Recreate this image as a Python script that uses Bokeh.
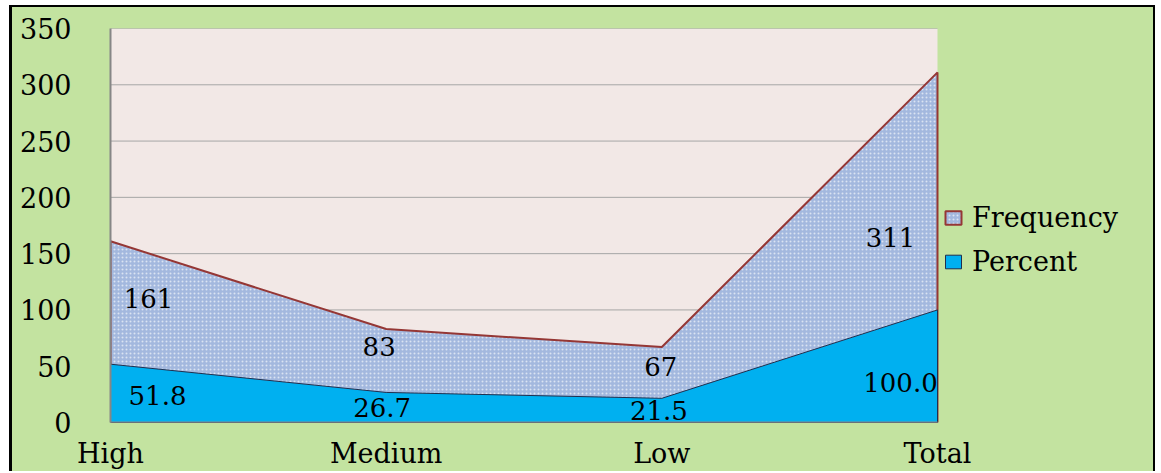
from bokeh.plotting import figure
from bokeh.models import Legend, LegendItem, FixedTicker, Range1d
from bokeh.embed import file_html
from bokeh.resources import INLINE
from bokeh.core.properties import value

# ---- data ----
categories = ["High", "Medium", "Low", "Total"]
frequency = [161, 83, 67, 311]
percent = [51.8, 26.7, 21.5, 100.0]
y_ticks = [0, 50, 100, 150, 200, 250, 300, 350]

# ---- label placement (screen pixel offsets, style only) ----
freq_dx = [38, -7, -1, -47]
freq_dy = [57, 17, 19, 165]
pct_dx = [47, -4, -3, -37]
pct_dy = [31, 15, 12, 73]

FONT = "DejaVu Serif"
GREEN = "#c3e3a0"
PINK = "#f2e8e6"
GRID = "#a6a6a6"
AXIS = "#868686"

x = list(range(len(categories)))

# layout: plot area 827 px wide, legend area 221 px to its right
PLOT_W = 827
RIGHT_W = 221
x_end = x[-1] + RIGHT_W * (x[-1] - x[0]) / PLOT_W

p = figure(width=1146, height=466, output_backend="svg", toolbar_location=None,
           x_range=Range1d(x[0], x_end), y_range=Range1d(y_ticks[0], y_ticks[-1]),
           min_border_left=98, min_border_right=0, min_border_top=21,
           min_border_bottom=51)
p.margin = (5, 0, 0, 9)
p.styles = {"border-left": "3px solid black", "border-top": "2px solid black",
            "border-right": "2px solid black", "background-color": GREEN}

p.background_fill_color = GREEN
p.border_fill_color = GREEN
p.outline_line_color = None

# plot area background
p.quad(left=x[0], right=x[-1], bottom=y_ticks[0], top=y_ticks[-1],
       fill_color=PINK, line_color=None)
# horizontal grid lines inside plot area
p.segment(x0=[x[0]] * len(y_ticks), x1=[x[-1]] * len(y_ticks), y0=y_ticks, y1=y_ticks,
          line_color=GRID, line_width=1)

# frequency area (drawn from zero, behind)
fx = [x[0]] + x + [x[-1]]
fy = [0] + frequency + [0]
freq_r = p.patch(fx, fy, fill_color="#a3b8de", line_color="#953735", line_width=2,
                 hatch_pattern="dot", hatch_color="white", hatch_scale=4,
                 hatch_weight=1, hatch_alpha=0.6)

# percent area (front)
py = [0] + percent + [0]
pct_r = p.patch(fx, py, fill_color="#00b0f0", line_color="#1f2f4f", line_width=1)

# category axis line along the plot area only
p.segment(x0=[x[0]], x1=[x[-1]], y0=[y_ticks[0]], y1=[y_ticks[0]],
          line_color=AXIS, line_width=2)

# data labels
p.text(x=x, y=frequency, text=[str(v) for v in frequency],
       x_offset=freq_dx, y_offset=freq_dy, text_align="center",
       text_baseline="middle", text_font=value(FONT), text_font_size="26px",
       text_color="black")
p.text(x=x, y=percent, text=[f"{v:.1f}" for v in percent],
       x_offset=pct_dx, y_offset=pct_dy, text_align="center",
       text_baseline="middle", text_font=value(FONT), text_font_size="26px",
       text_color="black")

# axes
p.xaxis.ticker = FixedTicker(ticks=x)
p.xaxis.major_label_overrides = {i: c for i, c in zip(x, categories)}
p.yaxis.ticker = FixedTicker(ticks=y_ticks)
for ax in (p.xaxis[0], p.yaxis[0]):
    ax.major_tick_line_color = None
    ax.minor_tick_line_color = None
    ax.major_label_text_font = FONT
    ax.major_label_text_font_size = "27px"
    ax.major_label_text_color = "black"
p.xaxis.axis_line_color = None
p.yaxis.axis_line_color = AXIS
p.yaxis.axis_line_width = 2
p.yaxis.major_label_standoff = 33
p.xaxis.major_label_standoff = 9

p.xgrid.grid_line_color = None
p.ygrid.grid_line_color = None

legend = Legend(items=[LegendItem(label="Frequency", renderers=[freq_r]),
                       LegendItem(label="Percent", renderers=[pct_r])],
                location=(PLOT_W + 6, 145))
legend.label_text_font = FONT
legend.label_text_font_size = "27px"
legend.label_text_color = "black"
legend.glyph_width = 20
legend.glyph_height = 17
legend.label_standoff = 9
legend.spacing = 13
legend.label_height = 30
legend.padding = 0
legend.margin = 0
legend.border_line_alpha = 0
legend.background_fill_alpha = 0
p.add_layout(legend, "center")

open("out.html", "w").write(file_html(p, INLINE))
